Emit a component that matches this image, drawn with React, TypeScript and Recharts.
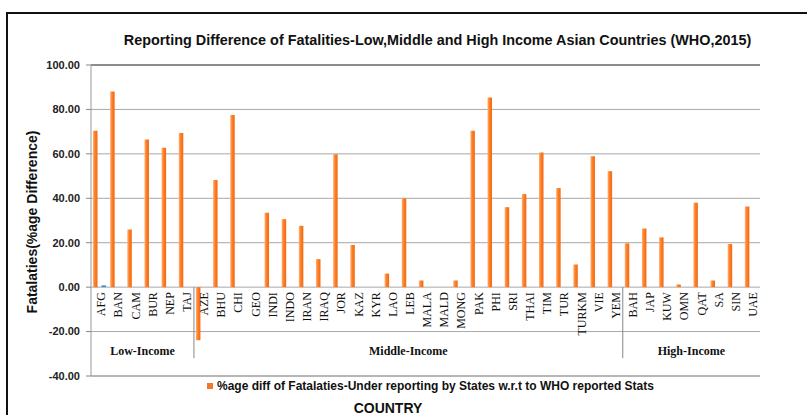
import React from 'react';
import {
  BarChart,
  Bar,
  XAxis,
  YAxis,
  CartesianGrid,
  Legend,
  ReferenceLine
} from 'recharts';

const countries = [
  'AFG', 'BAN', 'CAM', 'BUR', 'NEP', 'TAJ',
  'AZE', 'BHU', 'CHI', 'GEO', 'INDI', 'INDO', 'IRAN', 'IRAQ', 'JOR', 'KAZ', 'KYR', 'LAO', 'LEB',
  'MALA', 'MALD', 'MONG', 'PAK', 'PHI', 'SRI', 'THAI', 'TIM', 'TUR', 'TURKM', 'VIE', 'YEM',
  'BAH', 'JAP', 'KUW', 'OMN', 'QAT', 'SA', 'SIN', 'UAE'
];

const underReporting = [
  70.4, 88.1, 26.0, 66.5, 62.7, 69.4,
  -23.9, 48.2, 77.5, 0, 33.5, 30.6, 27.6, 12.6, 59.8, 19.0, 0, 6.1, 40.0,
  3.0, 0, 3.0, 70.4, 85.4, 36.0, 41.9, 60.6, 44.6, 10.2, 58.9, 52.2,
  19.7, 26.4, 22.4, 1.2, 38.0, 3.0, 19.4, 36.3
];

const secondDiff = [
  0.8, 0, 0, 0, 0, 0,
  0, 0, 0, 0, 0, 0, 0, 0, 0, 0, 0, 0, 0,
  0, 0, 0, 0, 0, 0, 0, 0, 0, 0, 0, 0,
  0, 0, 0, 0, 0, 0, 0, 0
];

const incomeGroups = [
  { name: 'Low-Income', count: 6 },
  { name: 'Middle-Income', count: 25 },
  { name: 'High-Income', count: 8 }
];

const yTicks = [-40, -20, 0, 20, 40, 60, 80, 100];

const W = 807;
const H = 415;
const PLOT_LEFT = 91;
const PLOT_RIGHT = 760;
const PLOT_TOP = 65;
const PLOT_BOTTOM = 376;
const ZERO_Y = PLOT_TOP + (PLOT_BOTTOM - PLOT_TOP) * 100 / 140;
const BAND = (PLOT_RIGHT - PLOT_LEFT) / countries.length;

const data = countries.map((c, i) => ({
  country: c,
  diff: underReporting[i],
  other: secondDiff[i]
}));

const groupStarts: Record<number, { name: string; count: number }> = {};
let acc = 0;
incomeGroups.forEach((g) => {
  groupStarts[acc] = g;
  acc += g.count;
});

const sans = 'Arial, "Liberation Sans", sans-serif';
const serif = '"Liberation Serif", "Times New Roman", serif';

const CountryTick = (props: any) => {
  const { x, index, payload } = props;
  const g = groupStarts[index];
  const left = x - BAND / 2;
  return (
    <g>
      <text
        x={x + 1.5}
        y={ZERO_Y + 5}
        dy="0.35em"
        transform={`rotate(-90, ${x + 1.5}, ${ZERO_Y + 5})`}
        textAnchor="end"
        fontFamily={serif}
        fontSize={12}
        fill="#111"
      >
        {payload.value}
      </text>
      {g && index > 0 && (
        <line x1={left} x2={left} y1={ZERO_Y} y2={ZERO_Y + 71} stroke="#888" strokeWidth={1} />
      )}
      {g && (
        <text
          x={left + (g.count * BAND) / 2}
          y={ZERO_Y + 68}
          textAnchor="middle"
          fontFamily={serif}
          fontWeight="bold"
          fontSize={12}
          fill="#111"
        >
          {g.name}
        </text>
      )}
    </g>
  );
};

const YLabel = () => (
  <text
    x={32}
    y={222}
    transform="rotate(-90, 32, 222)"
    textAnchor="middle"
    dominantBaseline="central"
    fontFamily={sans}
    fontWeight="bold"
    fontSize={14}
    fill="#111"
  >
    Fatalaties(%age Difference)
  </text>
);

const LegendContent = () => (
  <div
    style={{
      display: 'flex',
      alignItems: 'center',
      fontFamily: sans,
      fontWeight: 'bold',
      fontSize: 12,
      color: '#111',
      whiteSpace: 'nowrap'
    }}
  >
    <span style={{ width: 6, height: 6, background: '#f5782a', marginRight: 4, display: 'inline-block' }} />
    %age diff of Fatalaties-Under reporting by States w.r.t to WHO reported Stats
  </div>
);

const App: React.FC = () => {
  return (
    <div
      style={{
        position: 'absolute',
        left: 0,
        top: 0,
        width: W,
        height: H,
        overflow: 'hidden',
        background: '#fff'
      }}
    >
      <div
        style={{
          position: 'absolute',
          left: 6,
          top: 12,
          width: 900,
          height: 500,
          border: '2px solid #111'
        }}
      />
      <div
        style={{
          position: 'absolute',
          left: 0,
          top: 32,
          width: 875,
          textAlign: 'center',
          fontFamily: sans,
          fontWeight: 'bold',
          fontSize: 14.4,
          color: '#111',
          whiteSpace: 'nowrap'
        }}
      >
        Reporting Difference of Fatalities-Low,Middle and High Income Asian Countries (WHO,2015)
      </div>
      <div style={{ position: 'absolute', left: 0, top: 0 }}>
        <BarChart
          width={W}
          height={H}
          data={data}
          margin={{ top: PLOT_TOP, right: W - PLOT_RIGHT, bottom: H - PLOT_BOTTOM - 30, left: 0 }}
          barSize={4.5}
          barGap={4}
        >
          <defs>
            <linearGradient id="orangeBar" x1="0" y1="0" x2="1" y2="0">
              <stop offset="0%" stopColor="#fbb27c" />
              <stop offset="45%" stopColor="#ff7d22" />
              <stop offset="100%" stopColor="#f26a10" />
            </linearGradient>
          </defs>
          <CartesianGrid vertical={false} stroke="#a8a8a8" />
          <XAxis
            dataKey="country"
            height={30}
            interval={0}
            tickLine={false}
            axisLine={{ stroke: '#9a9a9a' }}
            tick={<CountryTick />}
          />
          <YAxis
            width={PLOT_LEFT}
            domain={[-40, 100]}
            ticks={yTicks}
            interval={0}
            tickFormatter={(v: number) => v.toFixed(2)}
            tickSize={5}
            tickMargin={6}
            tickLine={{ stroke: '#888' }}
            axisLine={{ stroke: '#9a9a9a' }}
            tick={{ fontFamily: sans, fontWeight: 'bold', fontSize: 11, fill: '#222' }}
            label={<YLabel />}
          />
          <YAxis
            yAxisId="frame"
            orientation="right"
            width={0}
            tick={false}
            tickLine={false}
            axisLine={{ stroke: '#555', strokeWidth: 1.5 }}
          />
          <ReferenceLine y={100} stroke="#444" strokeWidth={1.2} />
          <Legend
            verticalAlign="middle"
            align="center"
            layout="horizontal"
            content={<LegendContent />}
            wrapperStyle={{ top: 379, left: 207, width: 480 }}
          />
          <Bar dataKey="diff" name="%age diff" fill="url(#orangeBar)" isAnimationActive={false} />
          <Bar dataKey="other" name="other" fill="#3d8ed4" legendType="none" isAnimationActive={false} />
        </BarChart>
      </div>
      <div
        style={{
          position: 'absolute',
          left: 0,
          top: 400,
          width: 776,
          textAlign: 'center',
          fontFamily: sans,
          fontWeight: 'bold',
          fontSize: 14,
          color: '#111'
        }}
      >
        COUNTRY
      </div>
    </div>
  );
};

export default App;
